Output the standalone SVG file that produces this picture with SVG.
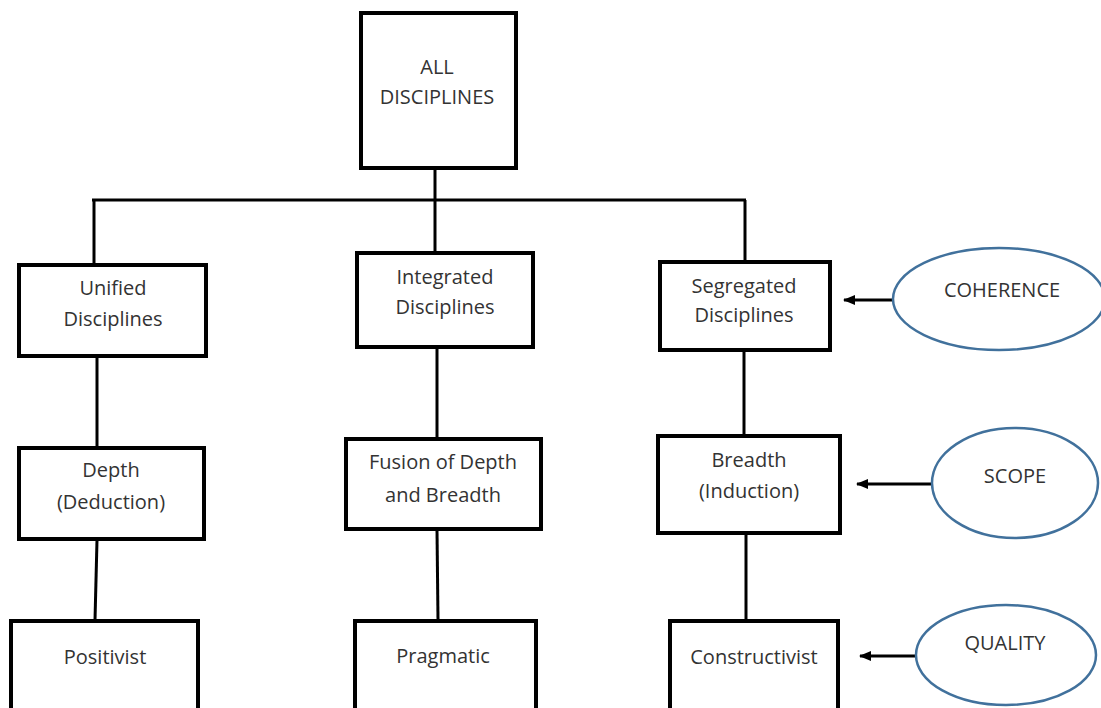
<svg xmlns="http://www.w3.org/2000/svg" width="1101" height="708" viewBox="0 0 1101 708">
<style>
.box{fill:#fff;stroke:#000;stroke-width:4}
.ell{fill:#fff;stroke:#41719c;stroke-width:2.5}
.t{font-family:"Open Sans","Liberation Sans",sans-serif;font-size:20px;fill:#333;text-anchor:middle}
.ln{stroke:#000;stroke-width:3;fill:none}
</style>
<defs>
<marker id="ah" markerWidth="12" markerHeight="10" refX="11" refY="5" orient="auto" markerUnits="userSpaceOnUse">
<path d="M0,0 L12,5 L0,10 Z" fill="#000"/>
</marker>
</defs>
<rect width="1101" height="708" fill="#fff"/>
<g id="connectors">
<line class="ln" x1="435" y1="170" x2="435" y2="252"/>
<line class="ln" x1="92" y1="200" x2="746" y2="200"/>
<line class="ln" x1="94" y1="200" x2="94" y2="264"/>
<line class="ln" x1="745" y1="200" x2="745" y2="261"/>
<line class="ln" x1="97" y1="357" x2="97" y2="447"/>
<line class="ln" x1="437" y1="348" x2="437" y2="438"/>
<line class="ln" x1="744" y1="351" x2="744" y2="435"/>
<line class="ln" x1="97" y1="540" x2="95" y2="620"/>
<line class="ln" x1="437" y1="530" x2="438" y2="620"/>
<line class="ln" x1="746" y1="534" x2="746" y2="620"/>
<line class="ln" x1="893" y1="300" x2="844" y2="300" marker-end="url(#ah)"/>
<line class="ln" x1="932" y1="484" x2="857" y2="484" marker-end="url(#ah)"/>
<line class="ln" x1="916" y1="656" x2="860" y2="656" marker-end="url(#ah)"/>
</g>
<g id="all"><rect class="box" x="361" y="13" width="155" height="155"/>
<text class="t" x="437" y="74">ALL</text><text class="t" x="437" y="104">DISCIPLINES</text></g>
<g id="unified"><rect class="box" x="19" y="265" width="187" height="91"/>
<text class="t" x="113" y="295">Unified</text><text class="t" x="113" y="326">Disciplines</text></g>
<g id="integrated"><rect class="box" x="357" y="253" width="176" height="94"/>
<text class="t" x="445" y="284">Integrated</text><text class="t" x="445" y="314">Disciplines</text></g>
<g id="segregated"><rect class="box" x="660" y="262" width="170" height="88"/>
<text class="t" x="744" y="293">Segregated</text><text class="t" x="744" y="322">Disciplines</text></g>
<g id="depth"><rect class="box" x="19" y="448" width="185" height="91"/>
<text class="t" x="111" y="477">Depth</text><text class="t" x="111" y="509">(Deduction)</text></g>
<g id="fusion"><rect class="box" x="346" y="439" width="195" height="90"/>
<text class="t" x="443" y="469">Fusion of Depth</text><text class="t" x="443" y="502">and Breadth</text></g>
<g id="breadth"><rect class="box" x="658" y="436" width="182" height="97"/>
<text class="t" x="749" y="467">Breadth</text><text class="t" x="749" y="498">(Induction)</text></g>
<g id="positivist"><rect class="box" x="11" y="621" width="187" height="100"/>
<text class="t" x="105" y="664">Positivist</text></g>
<g id="pragmatic"><rect class="box" x="355" y="621" width="181" height="100"/>
<text class="t" x="443" y="663">Pragmatic</text></g>
<g id="constructivist"><rect class="box" x="670" y="621" width="168" height="100"/>
<text class="t" x="754" y="664">Constructivist</text></g>
<g id="coherence"><ellipse class="ell" cx="999" cy="299" rx="106" ry="51"/>
<text class="t" x="1002" y="297">COHERENCE</text></g>
<g id="scope"><ellipse class="ell" cx="1015" cy="483" rx="83" ry="55"/>
<text class="t" x="1015" y="483">SCOPE</text></g>
<g id="quality"><ellipse class="ell" cx="1006" cy="655" rx="90" ry="50"/>
<text class="t" x="1005" y="650">QUALITY</text></g>
</svg>
